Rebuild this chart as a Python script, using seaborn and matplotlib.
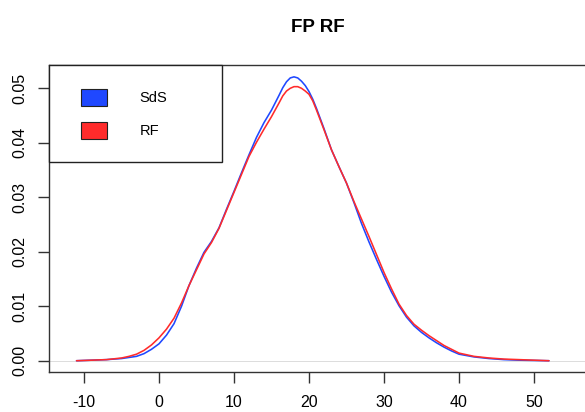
import numpy as np
import pandas as pd
import matplotlib
matplotlib.use("Agg")
import matplotlib.pyplot as plt
from matplotlib.patches import Rectangle
import seaborn as sns

# Density estimates of the two score distributions
x_grid = [-11, -9, -7, -5, -4, -3, -2, -1, 0, 1, 2, 3, 4, 5, 6, 7, 8, 9, 10,
          11, 12, 13, 14, 15, 16, 16.5, 17, 17.5, 18, 18.5, 19, 19.5, 20,
          20.5, 21, 22, 23, 24, 25, 26, 27, 28, 29, 30, 31, 32, 33, 34, 35,
          36, 37, 38, 39, 40, 42, 44, 46, 48, 50, 52]
sds_density = [0.0, 0.0001, 0.0002, 0.0004, 0.0006, 0.0008, 0.0013, 0.0021,
               0.0031, 0.0047, 0.0068, 0.0100, 0.0138, 0.0170, 0.0199, 0.0219,
               0.0244, 0.0278, 0.0311, 0.0345, 0.0378, 0.0410, 0.0437, 0.0460,
               0.0487, 0.0501, 0.0512, 0.0519, 0.0521, 0.0519, 0.0513, 0.0505,
               0.0494, 0.0480, 0.0463, 0.0426, 0.0387, 0.0356, 0.0326, 0.0290,
               0.0252, 0.0218, 0.0186, 0.0155, 0.0126, 0.0101, 0.0080, 0.0064,
               0.0052, 0.0042, 0.0033, 0.0025, 0.0018, 0.0012, 0.0007, 0.0004,
               0.0002, 0.0001, 0.00005, 0.0]
rf_density = [0.0, 0.0001, 0.0002, 0.0005, 0.0008, 0.0012, 0.0019, 0.0029,
              0.0042, 0.0058, 0.0078, 0.0106, 0.0138, 0.0167, 0.0196, 0.0217,
              0.0243, 0.0276, 0.0309, 0.0342, 0.0375, 0.0401, 0.0425, 0.0448,
              0.0473, 0.0486, 0.0495, 0.0500, 0.0503, 0.0503, 0.0500, 0.0495,
              0.0489, 0.0477, 0.0460, 0.0424, 0.0387, 0.0356, 0.0326, 0.0292,
              0.0260, 0.0228, 0.0195, 0.0162, 0.0132, 0.0104, 0.0083, 0.0067,
              0.0056, 0.0046, 0.0037, 0.0028, 0.0021, 0.0014, 0.0008, 0.0005,
              0.0003, 0.0002, 0.0001, 0.0]

series_names = ["SdS", "RF"]
series_colors = {"SdS": "#1f48ff", "RF": "#ff2b2b"}
x_ticks = [-10, 0, 10, 20, 30, 40, 50]
y_ticks = [0.00, 0.01, 0.02, 0.03, 0.04, 0.05]
y_tick_labels = ["0.00", "0.01", "0.02", "0.03", "0.04", "0.05"]

df = pd.concat([
    pd.DataFrame({"x": x_grid, "density": sds_density, "series": "SdS"}),
    pd.DataFrame({"x": x_grid, "density": rf_density, "series": "RF"}),
])

sns.set_theme(style="white")
plt.rcParams["font.family"] = ["Liberation Sans", "DejaVu Sans"]
plt.rcParams["text.color"] = "black"
plt.rcParams["axes.titlecolor"] = "black"

W, H = 585, 412
fig = plt.figure(figsize=(W / 100, H / 100), dpi=100)
ax = fig.add_axes([49 / W, (H - 372) / H, 538 / W, (372 - 65.3) / H])

# faint zero line, as in a base density plot
ax.axhline(0, color="#dcdcdc", lw=0.7, zorder=1)

sns.lineplot(data=df, x="x", y="density", hue="series", hue_order=series_names,
             palette=series_colors, ax=ax, lw=1.15, legend=False, sort=False,
             estimator=None)

ax.set_xlim(-14.67, 57.07)
ax.set_ylim(-0.00207, 0.05422)
ax.set_xticks(x_ticks)
ax.set_xticklabels([str(t) for t in x_ticks])
ax.set_yticks(y_ticks)
ax.set_yticklabels(y_tick_labels, rotation=90, va="center")
ax.set_xlabel("")
ax.set_ylabel("")

for side in ["left", "bottom", "top"]:
    ax.spines[side].set_visible(True)
    ax.spines[side].set_color("#333333")
    ax.spines[side].set_linewidth(1.0)
ax.spines["right"].set_visible(False)

ax.tick_params(axis="both", which="major", length=7.8, width=1.0,
               color="#333333", labelsize=11.5, labelcolor="black",
               left=True, bottom=True)
ax.tick_params(axis="x", pad=9)
ax.tick_params(axis="y", pad=8)

ax.set_title("FP RF", fontsize=13.5, fontweight="bold", pad=24, color="black")

# legend box in the upper-left corner
px = lambda x, y: (x / W, (H - y) / H)
box_x, box_y = px(49, 162)
fig.patches.append(Rectangle((box_x, box_y), (222 - 49) / W, (162 - 65.3) / H,
                             transform=fig.transFigure, facecolor="white",
                             edgecolor="#222222", lw=1.0, zorder=5))
for i, name in enumerate(series_names):
    top = 89.5 + i * 32.7
    rx, ry = px(81, top + 16.5)
    fig.patches.append(Rectangle((rx, ry), 26 / W, 16.5 / H,
                                 transform=fig.transFigure,
                                 facecolor=series_colors[name],
                                 edgecolor="#222222", lw=0.8, zorder=6))
    tx, ty = px(139.5, top + 8.5)
    fig.text(tx, ty, name, fontsize=10.5, va="center", ha="left",
             color="black", zorder=7)

fig.savefig("out.png", dpi=100)
